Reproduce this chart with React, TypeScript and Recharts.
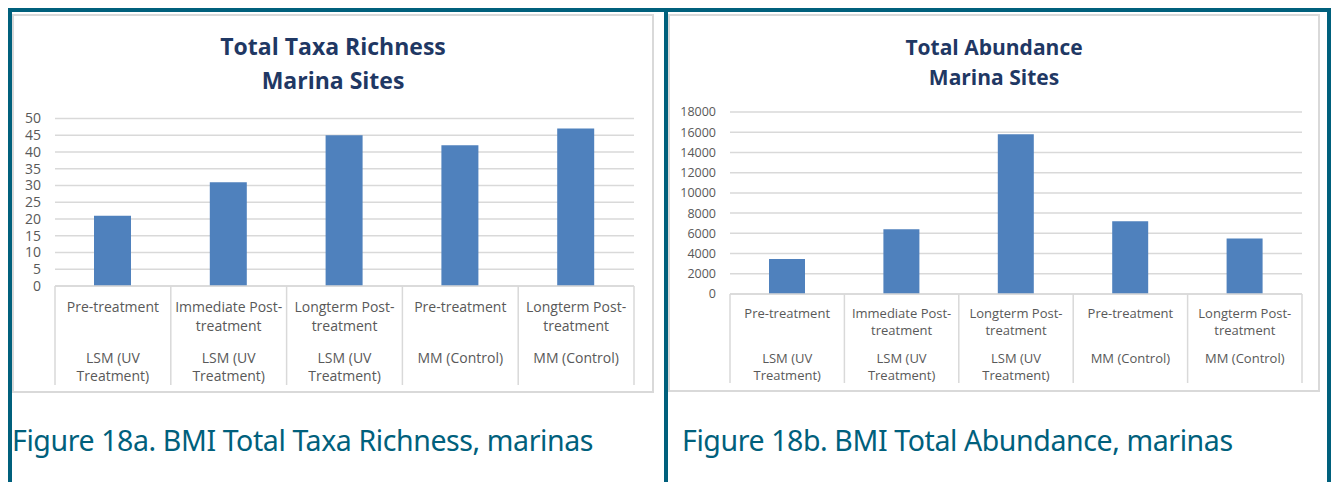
import React from 'react';
import { BarChart, Bar, XAxis, YAxis, CartesianGrid } from 'recharts';

// Sampling periods and sites shared by both charts
const periods = [
  'Pre-treatment',
  'Immediate Post-treatment',
  'Longterm Post-treatment',
  'Pre-treatment',
  'Longterm Post-treatment',
];
const sites = [
  'LSM (UV Treatment)',
  'LSM (UV Treatment)',
  'LSM (UV Treatment)',
  'MM (Control)',
  'MM (Control)',
];

// BMI metrics per period
const richness = [21, 31, 45, 42, 47];
const abundance = [3450, 6400, 15800, 7200, 5500];

const richnessTicks = [0, 5, 10, 15, 20, 25, 30, 35, 40, 45, 50];
const abundanceTicks = [0, 2000, 4000, 6000, 8000, 10000, 12000, 14000, 16000, 18000];

const BAR = '#4f81bd';
const GRID = '#d9d9d9';
const LABEL = '#595959';
const TEAL = '#00607c';
const NAVY = '#1f3864';
const FONT = '"Open Sans", "Noto Sans", sans-serif';

// Greedy wrap that breaks on spaces and after hyphens
function wrap(text: string, max: number): string[] {
  const tokens = text.split(/(?<=-)|\s+/).filter(Boolean);
  const lines: string[] = [];
  let cur = '';
  tokens.forEach((t) => {
    const joiner = cur === '' ? '' : cur.endsWith('-') ? '' : ' ';
    if ((cur + joiner + t).length <= max) {
      cur = cur + joiner + t;
    } else {
      if (cur) lines.push(cur);
      cur = t;
    }
  });
  if (cur) lines.push(cur);
  return lines;
}

type TickCfg = {
  fontSize: number;
  sepHeight: number;
  periodY: number[];
  siteY: number[];
  halfBand: number;
  count: number;
};

function CategoryTick(props: any) {
  const { x, y, payload, cfg } = props as { x: number; y: number; payload: any; cfg: TickCfg };
  const i = Number(payload.value);
  const half = typeof payload.offset === 'number' && payload.offset > 0 ? payload.offset : cfg.halfBand;
  const pLines = wrap(periods[i], 15);
  const sLines = wrap(sites[i], 15);
  return (
    <g>
      <line x1={x - half} x2={x - half} y1={y} y2={y + cfg.sepHeight} stroke={GRID} strokeWidth={1.5} />
      {i === cfg.count - 1 && (
        <line x1={x + half} x2={x + half} y1={y} y2={y + cfg.sepHeight} stroke={GRID} strokeWidth={1.5} />
      )}
      {pLines.map((l, k) => (
        <text key={'p' + k} x={x} y={y + cfg.periodY[k]} textAnchor="middle" dominantBaseline="central"
          fill={LABEL} fontSize={cfg.fontSize} fontFamily={FONT}>{l}</text>
      ))}
      {sLines.map((l, k) => (
        <text key={'s' + k} x={x} y={y + cfg.siteY[k]} textAnchor="middle" dominantBaseline="central"
          fill={LABEL} fontSize={cfg.fontSize} fontFamily={FONT}>{l}</text>
      ))}
    </g>
  );
}

type PanelProps = {
  left: number;
  top: number;
  width: number;
  height: number;
  title: string[];
  titleSize: number;
  titleLine: number;
  titleTop: number;
  values: number[];
  ticks: number[];
  yWidth: number;
  yFont: number;
  margin: { top: number; right: number; bottom: number; left: number };
  xHeight: number;
  barSize: number;
  tickCfg: TickCfg;
};

function Panel(p: PanelProps) {
  const data = p.values.map((v, i) => ({ key: String(i), value: v }));
  const max = p.ticks[p.ticks.length - 1];
  return (
    <>
      <div style={{
        position: 'absolute', left: p.left, top: p.top, width: p.width, height: p.height,
        boxSizing: 'border-box', border: `2px solid ${GRID}`, background: '#fff',
      }} />
      <div style={{
        position: 'absolute', left: p.left, top: p.titleTop, width: p.width, textAlign: 'center',
        fontFamily: FONT, fontWeight: 700, fontSize: p.titleSize, lineHeight: `${p.titleLine}px`, color: NAVY,
      }}>
        {p.title.map((t) => <div key={t}>{t}</div>)}
      </div>
      <div style={{ position: 'absolute', left: p.left, top: p.top }}>
        <BarChart width={p.width} height={p.height} data={data} margin={p.margin}>
          <CartesianGrid vertical={false} stroke={GRID} strokeWidth={1.5} />
          <XAxis
            dataKey="key"
            type="category"
            height={p.xHeight}
            interval={0}
            tickLine={false}
            tickSize={0}
            tickMargin={0}
            axisLine={{ stroke: GRID, strokeWidth: 1.5 }}
            tick={(tp: any) => <CategoryTick {...tp} cfg={p.tickCfg} />}
          />
          <YAxis
            domain={[0, max]}
            ticks={p.ticks}
            width={p.yWidth}
            axisLine={false}
            tickLine={false}
            tickSize={0}
            tickMargin={14}
            interval={0}
            tick={{ fill: LABEL, fontSize: p.yFont, fontFamily: FONT }}
          />
          <Bar dataKey="value" fill={BAR} barSize={p.barSize} isAnimationActive={false} />
        </BarChart>
      </div>
    </>
  );
}

const captionStyle = (left: number): React.CSSProperties => ({
  position: 'absolute', left, top: 420, fontFamily: '"Noto Sans", sans-serif', fontSize: 28.5,
  letterSpacing: -0.4, color: TEAL, lineHeight: '40px', whiteSpace: 'nowrap',
});

export default function App() {
  return (
    <div style={{ position: 'fixed', left: 0, top: 0, width: 1331, height: 482, background: '#fff', overflow: 'hidden' }}>
      <Panel
        left={12} top={14} width={642} height={379}
        title={['Total Taxa Richness', 'Marina Sites']}
        titleSize={23} titleLine={34} titleTop={29}
        values={richness} ticks={richnessTicks}
        yWidth={43} yFont={14}
        margin={{ top: 104.5, right: 20, bottom: 8, left: 0 }}
        xHeight={99} barSize={37}
        tickCfg={{ fontSize: 14, sepHeight: 99, periodY: [20, 39], siteY: [71, 89], halfBand: 57.9, count: 5 }}
      />
      <Panel
        left={668} top={14} width={652} height={378}
        title={['Total Abundance', 'Marina Sites']}
        titleSize={21} titleLine={30} titleTop={32}
        values={abundance} ticks={abundanceTicks}
        yWidth={62} yFont={12.5}
        margin={{ top: 98, right: 18, bottom: 9, left: 0 }}
        xHeight={89} barSize={36}
        tickCfg={{ fontSize: 13, sepHeight: 89, periodY: [19, 36], siteY: [64, 81], halfBand: 57.2, count: 5 }}
      />

      {/* teal frame */}
      <div style={{ position: 'absolute', left: 8, top: 8, width: 1323, height: 4, background: TEAL }} />
      <div style={{ position: 'absolute', left: 8, top: 8, width: 4, height: 474, background: TEAL }} />
      <div style={{ position: 'absolute', left: 664, top: 8, width: 4, height: 474, background: TEAL }} />
      <div style={{ position: 'absolute', left: 1327, top: 8, width: 4, height: 474, background: TEAL }} />

      {/* figure captions */}
      <div style={captionStyle(12)}>Figure 18a. BMI Total Taxa Richness, marinas</div>
      <div style={captionStyle(682)}>Figure 18b. BMI Total Abundance, marinas</div>
    </div>
  );
}
